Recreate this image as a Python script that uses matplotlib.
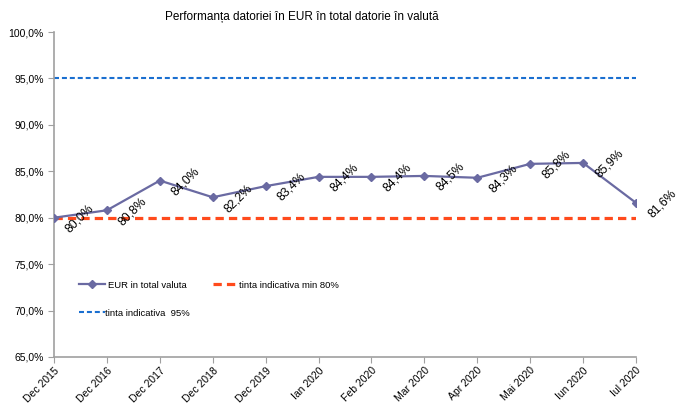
import matplotlib
matplotlib.use("Agg")
import matplotlib.pyplot as plt
from matplotlib.ticker import FuncFormatter
from matplotlib.legend import Legend

categories = ["Dec 2015", "Dec 2016", "Dec 2017", "Dec 2018", "Dec 2019", "Ian 2020",
              "Feb 2020", "Mar 2020", "Apr 2020", "Mai 2020", "Iun 2020", "Iul 2020"]
eur_share = [80.0, 80.8, 84.0, 82.2, 83.4, 84.4, 84.4, 84.5, 84.3, 85.8, 85.9, 81.6]
target_min = [80.0] * len(categories)
target_95 = [95.0] * len(categories)
y_ticks = [65, 70, 75, 80, 85, 90, 95, 100]

plt.rcParams['font.family'] = ['Liberation Sans', 'DejaVu Sans']

fig = plt.figure(figsize=(6.86, 4.03), dpi=100)
ax = fig.add_axes([54/686, 1-357/403, (636-54)/686, (357-32)/403])

x = list(range(len(categories)))
l1, = ax.plot(x, eur_share, color='#6A6AA2', lw=1.6, marker='D', ms=4, zorder=3,
              label='EUR in total valuta')
l2, = ax.plot(x, target_min, color='#FF4A1C', lw=2.3, ls=(0, (2.6, 1.6)), zorder=2,
              label='tinta indicativa min 80%')
l3, = ax.plot(x, target_95, color='#1A6FD0', lw=1.5, ls=(0, (2.4, 1.4)), zorder=2,
              label='tinta indicativa  95%')

for xi, v in zip(x, eur_share):
    ax.annotate(f"{v:.1f}%".replace('.', ','), (xi, v), xytext=(26, -1),
                textcoords='offset pixels', rotation=45, ha='center', va='center',
                fontsize=8.7, color='black', rotation_mode='anchor')

ax.set_xlim(0, len(categories) - 1)
ax.set_ylim(65, 100)
ax.set_yticks(y_ticks)
ax.yaxis.set_major_formatter(FuncFormatter(lambda v, p: f"{v:.1f}%".replace('.', ',')))
ax.set_xticks(x)
ax.set_xticklabels(categories, rotation=45, ha='right', rotation_mode='anchor', fontsize=7.5)
ax.tick_params(axis='y', labelsize=7.5, length=4, color='#A0A0A0', direction='out')
ax.tick_params(axis='x', length=4, color='#A0A0A0', direction='out', pad=2)
for s in ['top', 'right']:
    ax.spines[s].set_visible(False)
for s in ['left', 'bottom']:
    ax.spines[s].set_color('#A0A0A0')
    ax.spines[s].set_linewidth(1.2)

# legend entries placed individually (axes fraction coordinates)
leg_specs = [
    (l1, (79-54)/582, (357-285)/325, 0.3),
    (l2, (213-54)/582, (357-285)/325, 0.05),
    (l3, (79-54)/582, (357-313)/325, 0.05),
]
for h, lx, ly, tp in leg_specs:
    lg = Legend(ax, [h], [h.get_label()], loc='center left', bbox_to_anchor=(lx, ly),
                bbox_transform=ax.transAxes, frameon=False, fontsize=6.8,
                handlelength=2.75, handletextpad=tp, borderpad=0, borderaxespad=0)
    ax.add_artist(lg)

fig.text(302/686, 1-17/403, "Performanța datoriei în EUR în total datorie în valută",
         ha='center', va='center', fontsize=8.5)

fig.savefig("out.png", dpi=100)
